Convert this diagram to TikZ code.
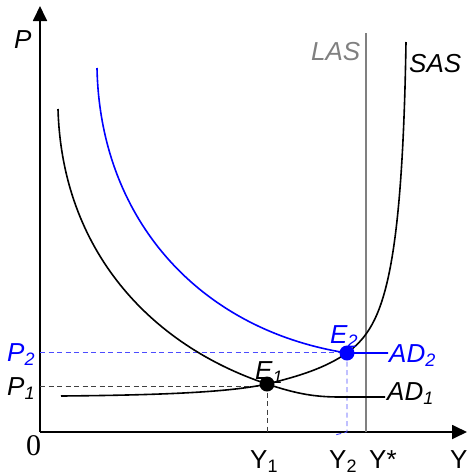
\documentclass[tikz,border=0pt]{standalone}
\usepackage{fontspec}
\setmainfont{Liberation Sans}
\newfontfamily\serifzero{Liberation Serif}
\usetikzlibrary{arrows.meta}
\definecolor{lasgray}{RGB}{128,128,128}
\definecolor{adblue}{RGB}{0,0,255}
\newcommand\mysub[1]{\raisebox{-0.16em}{\fontsize{18}{20}\selectfont #1}}
\tikzset{
  axis/.style={line width=1.8pt,-{Triangle[length=15pt,width=14pt]}},
  curve/.style={line width=1.6pt},
  guide/.style={line width=0.9pt,dash pattern=on 5pt off 3.5pt},
  lbl/.style={font=\fontsize{26}{28}\selectfont\itshape,inner sep=0pt,anchor=base west},
  ylbl/.style={font=\fontsize{26}{28}\selectfont,inner sep=0pt,anchor=base west},
  dot/.style={circle,inner sep=0pt,minimum size=15pt}
}
\begin{document}
\begin{tikzpicture}[x=1pt,y=-1pt]
\useasboundingbox (0,0) rectangle (468,475);
% axes
\coordinate (O) at (40,432);
\coordinate (ytip) at (40,6);
\coordinate (xtip) at (467,432);
\draw[axis] (O) -- (ytip);
\draw[axis] (O) -- (xtip);
% LAS
\coordinate (lastop) at (366,33);
\coordinate (lasbot) at (366,432);
\draw[lasgray,line width=1.5pt] (lasbot) -- (lastop);
% equilibria
\coordinate (E1) at (267,384);
\coordinate (E2) at (347,353);
\coordinate (P1) at (40,386);
\coordinate (P2) at (40,352);
\coordinate (Y1) at (267,432);
\coordinate (Y2) at (347,432);
\coordinate (Y2t) at (335,435);
% guides
\draw[guide,black!75] (P1) -- (E1 |- P1);
\draw[guide,black!75] (E1) -- (Y1);
\draw[guide,adblue!70] (P2) -- (E2 |- P2);
\draw[guide,adblue!70] (E2) -- (Y2) -- (Y2t);
% AD1
\coordinate (ad1s) at (58,109);
\coordinate (ad1e) at (385,397);
\draw[curve] (ad1s) .. controls (62,250) and (150,345) .. (E1)
  .. controls (297,394) and (315,397) .. (340,397) -- (ad1e);
% AD2
\coordinate (ad2s) at (97,68);
\coordinate (ad2e) at (388,353);
\draw[curve,adblue] (ad2s) .. controls (100,220) and (200,330) .. (E2) -- (ad2e);
% SAS
\coordinate (sass) at (61,396);
\coordinate (sase) at (406,42);
\draw[curve] (sass) .. controls (180,395) and (235,391) .. (E1)
  .. controls (300,376) and (325,368) .. (E2)
  .. controls (380,328) and (402,290) .. (sase);
% dots
\node[dot,fill=black] (e1) at (E1) {};
\node[dot,fill=adblue] (e2) at (E2) {};
% labels
\node[lbl] (lP) at (14,48) {P};
\node[font=\serifzero\fontsize{30}{32}\selectfont,inner sep=0pt,anchor=base west] (l0) at (26,455) {0};
\node[lbl,adblue] (lP2) at (7,361) {P\mysub{2}};
\node[lbl] (lP1) at (7,395) {P\mysub{1}};
\node[lbl] (lE1) at (255,379) {E\mysub{1}};
\node[lbl,adblue] (lE2) at (330,343) {E\mysub{2}};
\node[lbl,adblue] (lAD2) at (389,362) {AD\mysub{2}};
\node[lbl] (lAD1) at (387,400) {AD\mysub{1}};
\node[lbl,lasgray] (lLAS) at (311,60) {LAS};
\node[lbl] (lSAS) at (409,72) {SAS};
\node[ylbl] (lY1) at (250,468) {Y\mysub{1}};
\node[ylbl] (lY2) at (329,468) {Y\mysub{2}};
\node[ylbl] (lYs) at (369,468) {Y*};
\node[ylbl] (lY) at (450,468) {Y};
\end{tikzpicture}
\end{document}
